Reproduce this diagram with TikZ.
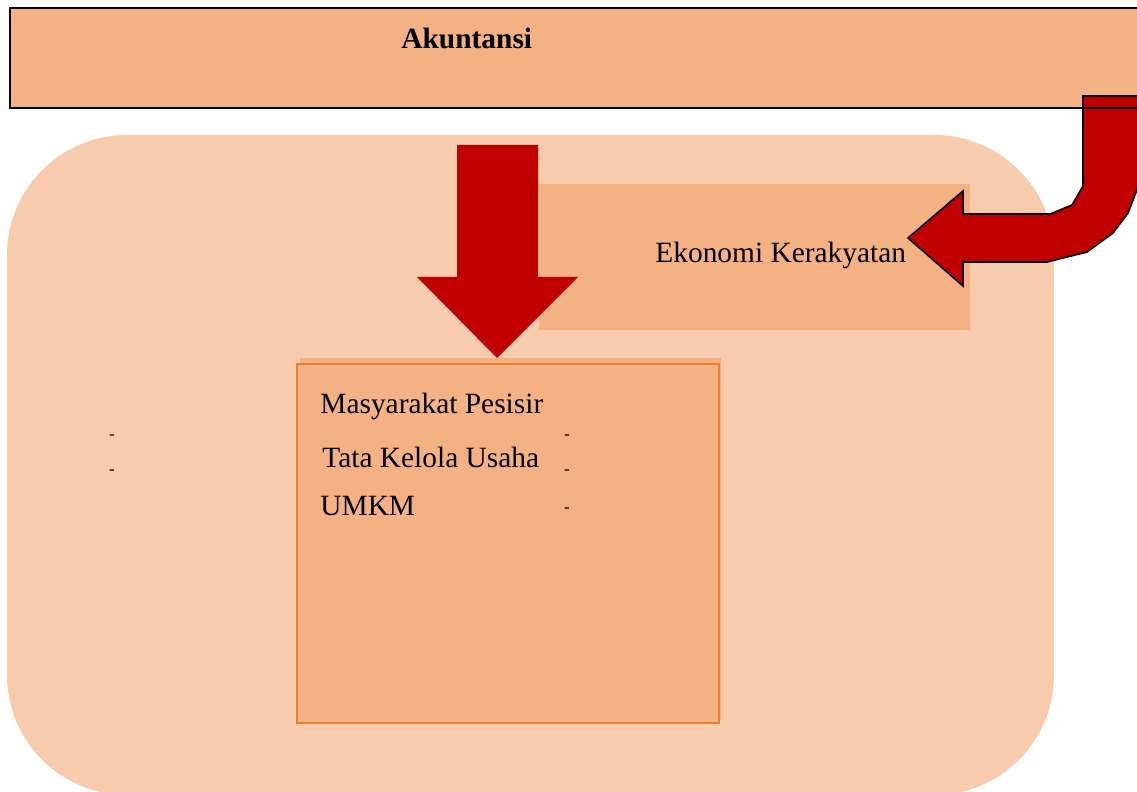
\documentclass[tikz,border=0pt]{standalone}
\usepackage{fontspec}
\setmainfont{Liberation Serif}
\usepackage{tikz}
\usetikzlibrary{positioning}

\definecolor{akunfill}{HTML}{F4B183}
\definecolor{areafill}{HTML}{F8CBAD}
\definecolor{arrowred}{HTML}{C00000}
\definecolor{boxline}{HTML}{ED7D31}

\begin{document}
\begin{tikzpicture}[
    x=0.5pt, y=-0.5pt,
    block/.style={rectangle, anchor=north west, inner sep=0pt, outer sep=0pt},
    txt/.style={anchor=base west, inner sep=0pt, font=\fontsize{14.7pt}{17pt}\selectfont},
    dashmark/.style={anchor=center, inner sep=0pt, font=\fontsize{8.5pt}{9pt}\selectfont}
]
\useasboundingbox (0,0) rectangle (1137,792);

% rounded background area
\node[block, fill=areafill, rounded corners=60pt,
      minimum width=523.5pt, minimum height=330pt] (area) at (7,135) {};

% ekonomi box
\node[block, fill=akunfill, minimum width=215.5pt, minimum height=73pt] (eko) at (539,184) {};
\node[txt] (ekotext) at (655,263) {Ekonomi Kerakyatan};

% down arrow
\fill[arrowred] (457,145) -- (538,145) -- (538,277) -- (578,277) -- (497,358)
    -- (417,277) -- (457,277) -- cycle;

% inner box
\node[block, fill=akunfill, minimum width=210.5pt, minimum height=181pt] (shade) at (300,358) {};
\node[block, fill=akunfill, draw=boxline, line width=1pt,
      minimum width=211pt, minimum height=179.5pt] (inner) at (297,364) {};
\node[txt] (masy) at (320,414) {Masyarakat Pesisir};
\node[txt] (tata) at (322,467) {Tata Kelola Usaha};
\node[txt] (umkm) at (320,515) {UMKM};

% dashes
\node[dashmark] (d1) at (112,437) {-};
\node[dashmark] (d2) at (112,472) {-};
\node[dashmark] (d3) at (567,437) {-};
\node[dashmark] (d4) at (567,472) {-};
\node[dashmark] (d5) at (567,510) {-};

% top box
\node[block, fill=akunfill, minimum width=567.5pt, minimum height=50pt] (akun) at (10,8) {};
\node[txt, font=\fontsize{14.7pt}{17pt}\selectfont\bfseries] (akuntext) at (401,49) {Akuntansi};

% curved arrow
\filldraw[fill=arrowred, draw=black, line width=0.8pt, line join=miter]
    (1083,96) -- (1083,186) -- (1072,205) -- (1050,214) -- (963,214) -- (963,191)
    -- (908,238) -- (963,286) -- (963,262) -- (1047,262) -- (1087,252)
    -- (1113,233) -- (1128,213) -- (1137,190) -- (1141,170) -- (1141,96) -- cycle;

\draw[line width=0.6pt] (akun.north west) rectangle (akun.south east);
\end{tikzpicture}
\end{document}
